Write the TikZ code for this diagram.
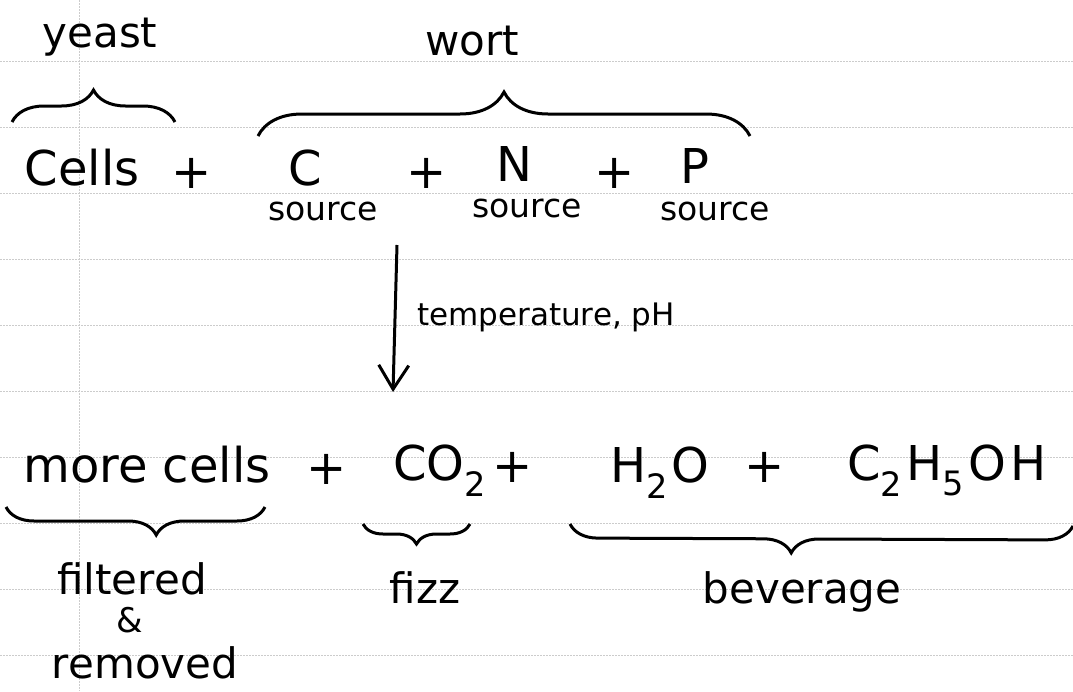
\documentclass[tikz,border=0pt]{standalone}
\usepackage{fontspec}
\setmainfont{DejaVu Sans}
\usetikzlibrary{decorations.pathreplacing,arrows.meta}
\tikzset{
  rule/.style={gray!40,line width=0.7pt,dash pattern=on 2pt off 1pt},
  ink/.style={line width=3pt,black},
  big/.style={anchor=base,inner sep=0pt,font=\fontsize{48}{56}\selectfont},
  src/.style={anchor=base,inner sep=0pt,font=\fontsize{33}{40}\selectfont},
  lbl/.style={anchor=base,inner sep=0pt,font=\fontsize{42}{48}\selectfont},
  cond/.style={anchor=base,inner sep=0pt,font=\fontsize{31}{36}\selectfont},
  topbrace/.style={ink,decorate,decoration={brace,amplitude=#1}},
  botbrace/.style={ink,decorate,decoration={brace,amplitude=#1}}
}
\begin{document}
\begin{tikzpicture}[x=1pt,y=-1pt]
\useasboundingbox (0,0) rectangle (1073,691);
\fill[white] (0,0) rectangle (1073,691);
% ruled paper
\foreach \k in {0,...,9}{
  \draw[rule] (0,61+66*\k) -- (1073,61+66*\k);
}
\draw[rule] (79,0) -- (79,691);

% top labels
\node[lbl] (yeast) at (100,47) {yeast};
\node[lbl] (wort) at (472,55) {wort};

% reactants
\node[big] (cells) at (82,185) {Cells};
\node[big] (p1) at (192,188) {+};
\node[big] (C) at (305,185) {C};
\node[src] (s1) at (323,220) {source};
\node[big] (p2) at (427,188) {+};
\node[big] (N) at (514,181) {N};
\node[src] (s2) at (527,217) {source};
\node[big] (p3) at (615,188) {+};
\node[big] (P) at (695,183) {P};
\node[src] (s3) at (715,220) {source};

% braces over reactants
\coordinate (yb1) at (12,122);
\coordinate (yb2) at (175,122);
\draw[topbrace=32pt] (yb1) -- (yb2);
\coordinate (wb1) at (258,136);
\coordinate (wb2) at (750,136);
\draw[topbrace=44pt] (wb1) -- (wb2);

% reaction arrow
\coordinate (atop) at (397,245);
\coordinate (abot) at (393,392);
\draw[ink,-{Straight Barb[length=24pt,width=30pt,line width=3pt]}] (atop) -- (abot);
\node[cond] (temp) at (546,325) {temperature, pH};

% products
\node[big] (more) at (147,482) {more cells};
\node[big] (q1) at (327,484) {+};
\node[big] (co2) at (440,480) {CO\textsubscript{2}};
\node[big] (q2) at (513,482) {+};
\node[big] (h2o) at (660,482) {H\textsubscript{2}\kern3pt O};
\node[big] (q3) at (765,482) {+};
\node[big] (eth) at (947,480) {C\textsubscript{2}\kern4pt H\textsubscript{5}\kern4pt O\kern4pt H};

% braces under products
\coordinate (mb1) at (265,507);
\coordinate (mb2) at (6,507);
\draw[botbrace=28pt,decoration={aspect=0.42}] (mb1) -- (mb2);
\coordinate (cb1) at (470,524);
\coordinate (cb2) at (363,524);
\draw[botbrace=20pt] (cb1) -- (cb2);
\coordinate (bb1) at (1073,526);
\coordinate (bb2) at (570,524);
\draw[botbrace=28pt,decoration={aspect=0.56}] (bb1) -- (bb2);

% bottom labels
\node[lbl] (filt) at (132,594) {filtered};
\node[lbl,font=\fontsize{34}{40}\selectfont] (amp) at (130,632) {\&};
\node[lbl] (rem) at (145,678) {removed};
\node[lbl] (fizz) at (425,603) {fizz};
\node[lbl] (bev) at (802,603) {beverage};
\end{tikzpicture}
\end{document}
